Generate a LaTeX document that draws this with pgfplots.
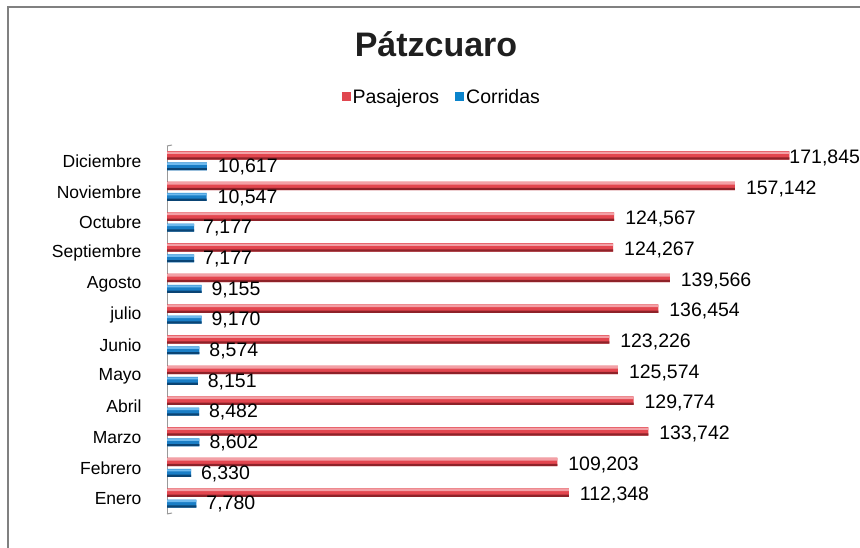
\documentclass[border=0pt]{standalone}
\usepackage{pgfplots}
\usepackage{pgfplotstable}
\pgfplotsset{compat=1.18}
\usepackage{fontspec}
\setmainfont{Liberation Sans}
\definecolor{redtop}{HTML}{F3A0A6}
\definecolor{redmid}{HTML}{E3464F}
\definecolor{redbot}{HTML}{8E2229}
\definecolor{bluetop}{HTML}{6FBAEE}
\definecolor{bluemid}{HTML}{1A7EC6}
\definecolor{bluebot}{HTML}{0A4474}
\definecolor{legred}{HTML}{E0474F}
\definecolor{legblue}{HTML}{0A84CC}
\definecolor{framegray}{HTML}{808080}
% y, Pasajeros, Corridas, label offsets (pt)
\pgfplotstableread{
y pas cor dxp dxc
0 112348 7780 7.5 6.5
1 109203 6330 7.5 6.5
2 133742 8602 7.5 6.5
3 129774 8482 7.5 6.5
4 125574 8151 7.5 6.5
5 123226 8574 7.5 6.5
6 136454 9170 7.5 6.5
7 139566 9155 7.5 6.5
8 124267 7177 7.5 5.5
9 124567 7177 7.5 5.5
10 157142 10547 7.5 7.5
11 171845 10617 -3.5 7.5
}\datatable
% the 3D look of the original: the red row sits deeper than the blue row
\def\redoff{3886}
\def\blueoff{-162}
\begin{document}
\begin{tikzpicture}[x=1pt,y=1pt]
\useasboundingbox (0,0) rectangle (860,548);
\draw[line width=2pt, framegray] (8,0) -- (8,541) -- (860,541);
\node[font=\fontsize{34}{40}\selectfont\bfseries, text=black!88] at (436,504) {Pátzcuaro};
\begin{axis}[
  at={(167pt,34pt)}, anchor=south west,
  scale only axis, width=675pt, height=368pt,
  xmin=0, xmax=182137, ymin=-0.5, ymax=11.5,
  axis x line=none,
  axis y line*=left,
  y axis line style={draw=framegray!80, line width=1pt},
  ytick={0,...,11},
  yticklabels={Enero,Febrero,Marzo,Abril,Mayo,Junio,julio,Agosto,Septiembre,Octubre,Noviembre,Diciembre},
  ytick style={draw=none},
  yticklabel style={font=\fontsize{17.5}{20}\selectfont, text=black, xshift=-22pt},
  /pgf/number format/.cd, fixed, precision=0, 1000 sep={,}, assume math mode=true,
  /pgfplots/.cd,
  legend style={at={(0.407,1.133)}, anchor=center, draw=none, fill=none,
    legend columns=2, font=\fontsize{19.5}{22}\selectfont,
    /tikz/every even column/.append style={column sep=14pt}},
  legend image code/.code={\fill[#1] (0pt,-4pt) rectangle (9pt,5pt);},
  clip=false,
]
\addlegendimage{fill=legred, draw=none}
\addlegendentry{Pasajeros}
\addlegendimage{fill=legblue, draw=none}
\addlegendentry{Corridas}
% Pasajeros: main bar, highlight, shadow
\addplot[xbar, bar width=8.5pt, bar shift=6pt, draw=none, fill=redmid,
  nodes near coords, point meta=\thisrow{pas},
  visualization depends on={\thisrow{dxp} \as \dxp},
  every node near coord/.append style={anchor=west, xshift=\dxp, yshift=3.5pt, text=black, font=\fontsize{19.5}{22}\selectfont}]
  table[x expr=\thisrow{pas}-\redoff, y=y] {\datatable};
\addplot[xbar, bar width=2.3pt, bar shift=8.6pt, draw=none, fill=redtop, forget plot]
  table[x expr=\thisrow{pas}-\redoff, y=y] {\datatable};
\addplot[xbar, bar width=2.3pt, bar shift=2.9pt, draw=none, fill=redbot, forget plot]
  table[x expr=\thisrow{pas}-\redoff, y=y] {\datatable};
% Corridas: main bar, highlight, shadow
\addplot[xbar, bar width=8pt, bar shift=-5pt, draw=none, fill=bluemid,
  nodes near coords, point meta=\thisrow{cor},
  visualization depends on={\thisrow{dxc} \as \dxc},
  every node near coord/.append style={anchor=west, xshift=\dxc, yshift=-5.5pt, text=black, font=\fontsize{19.5}{22}\selectfont}]
  table[x expr=\thisrow{cor}-\blueoff, y=y] {\datatable};
\addplot[xbar, bar width=2.2pt, bar shift=-2.4pt, draw=none, fill=bluetop, forget plot]
  table[x expr=\thisrow{cor}-\blueoff, y=y] {\datatable};
\addplot[xbar, bar width=2.2pt, bar shift=-7.8pt, draw=none, fill=bluebot, forget plot]
  table[x expr=\thisrow{cor}-\blueoff, y=y] {\datatable};
\draw[framegray!80, line width=1pt] (axis cs:0,11.5) -- ++(5pt,1pt);
\draw[framegray!80, line width=1pt] (axis cs:0,-0.5) -- ++(5pt,1pt);
\end{axis}
\end{tikzpicture}
\end{document}
